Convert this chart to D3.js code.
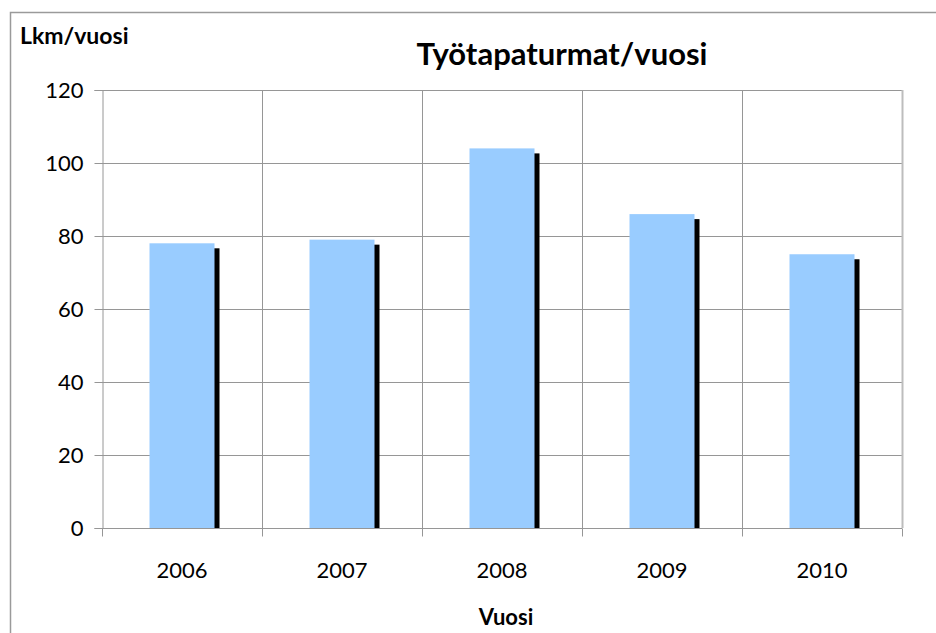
<!DOCTYPE html>
<html>
<head>
<meta charset="utf-8">
<script src="https://cdn.jsdelivr.net/npm/d3@7"></script>
<style>
  body { margin: 0; background: #fff; }
  svg text { font-family: Lato, "Open Sans", sans-serif; fill: #000; }
  .grid line { stroke: #969696; stroke-width: 1; }
  .axis path, .axis line { stroke: #969696; }
</style>
</head>
<body>
<div id="chart"></div>
<script>
'use strict';

const years = ['2006', '2007', '2008', '2009', '2010'];
const accidents = [78, 79, 104, 86, 75];
const yTicks = [0, 20, 40, 60, 80, 100, 120];

const width = 936, height = 633;
const margins = { top: 90, right: 34, bottom: 105, left: 102 };
const innerW = width - margins.left - margins.right;
const innerH = height - margins.top - margins.bottom;

const svg = d3.select('#chart').append('svg')
    .attr('width', width)
    .attr('height', height);

// outer chart border
svg.append('path')
    .attr('d', `M10.5,${height} V12.5 H${width}`)
    .attr('fill', 'none')
    .attr('stroke', '#9a9a9a')
    .attr('stroke-width', 1.5);

const g = svg.append('g').attr('transform', `translate(${margins.left},${margins.top})`);

const x = d3.scaleBand().domain(years).range([0, innerW]);
const y = d3.scaleLinear().domain([0, 120]).range([innerH, 0]);

// horizontal gridlines
g.append('g').attr('class', 'grid')
    .selectAll('line').data(yTicks.filter(d => d > 0))
    .enter().append('line')
        .attr('x1', 0).attr('x2', innerW)
        .attr('y1', d => Math.round(y(d)) + 0.5)
        .attr('y2', d => Math.round(y(d)) + 0.5);

// vertical gridlines at category boundaries
g.append('g').attr('class', 'grid')
    .selectAll('line').data(years.slice(1))
    .enter().append('line')
        .attr('x1', d => Math.round(x(d)) + 0.5)
        .attr('x2', d => Math.round(x(d)) + 0.5)
        .attr('y1', 0).attr('y2', innerH);

// right plot border
g.append('line')
    .attr('x1', innerW + 0.5).attr('x2', innerW + 0.5)
    .attr('y1', 0).attr('y2', innerH)
    .attr('stroke', '#bdbdbd').attr('stroke-width', 2);

const barW = 65, shadow = 5;
const barX = d => x(d) + (x.bandwidth() - barW) / 2;

// shadows
g.selectAll('.shadow').data(accidents)
    .enter().append('rect')
        .attr('class', 'shadow')
        .attr('x', (d, i) => barX(years[i]) + shadow)
        .attr('y', d => y(d) + shadow)
        .attr('width', barW)
        .attr('height', d => innerH - y(d) - shadow)
        .attr('fill', '#000');

// bars
g.selectAll('.bar').data(accidents)
    .enter().append('rect')
        .attr('class', 'bar')
        .attr('x', (d, i) => barX(years[i]))
        .attr('y', d => y(d))
        .attr('width', barW)
        .attr('height', d => innerH - y(d))
        .attr('fill', '#99ccff');

// y axis
const yAxis = d3.axisLeft(y).tickValues(yTicks).tickSize(8).tickPadding(11);
const yG = g.append('g').attr('class', 'axis')
    .attr('transform', 'translate(0.5,0)')
    .call(yAxis);
yG.selectAll('text').style('font-size', '22px');
yG.selectAll('.tick line').attr('stroke', '#969696');

// x axis: ticks at boundaries
const xG = g.append('g').attr('class', 'axis')
    .attr('transform', `translate(0,${Math.round(innerH) + 0.5})`);
xG.append('line').attr('x1', 0).attr('x2', innerW).attr('stroke', '#969696');
xG.selectAll('.xtick').data(years.concat(['end']))
    .enter().append('line')
        .attr('x1', (d, i) => Math.round(i * x.bandwidth()) + 0.5)
        .attr('x2', (d, i) => Math.round(i * x.bandwidth()) + 0.5)
        .attr('y1', 0).attr('y2', 8)
        .attr('stroke', '#969696');
xG.selectAll('.xlabel').data(years)
    .enter().append('text')
        .attr('x', d => x(d) + x.bandwidth() / 2)
        .attr('y', 49)
        .attr('text-anchor', 'middle')
        .style('font-size', '22px')
        .text(d => d);

// titles
svg.append('text')
    .attr('x', 562).attr('y', 65)
    .attr('text-anchor', 'middle')
    .style('font-size', '31px').style('font-weight', 'bold')
    .text('Työtapaturmat/vuosi');

svg.append('text')
    .attr('x', 20).attr('y', 44)
    .style('font-size', '23px').style('font-weight', 'bold')
    .text('Lkm/vuosi');

svg.append('text')
    .attr('x', x('2008') + margins.left + x.bandwidth() / 2 + 4).attr('y', 625)
    .attr('text-anchor', 'middle')
    .style('font-size', '22px').style('font-weight', 'bold')
    .text('Vuosi');
</script>
</body>
</html>
